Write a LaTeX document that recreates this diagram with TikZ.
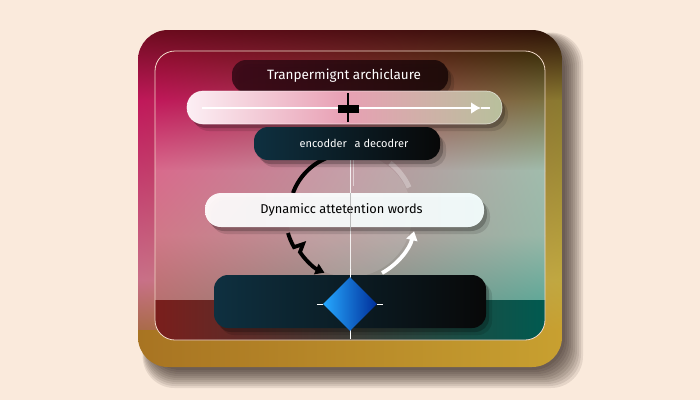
\documentclass[tikz,border=0pt]{standalone}
\usepackage{fontspec}
\setmainfont{Fira Sans}
\usetikzlibrary{arrows.meta,shapes.geometric,shadows,shadings}
\definecolor{bgpeach}{HTML}{FAEADC}
\definecolor{framecol}{HTML}{F2D8C8}
\definecolor{oa}{HTML}{6E0A1E}\definecolor{ob}{HTML}{2A1206}
\definecolor{oc}{HTML}{C0185A}\definecolor{od}{HTML}{8A7A30}
\definecolor{oe}{HTML}{C87088}\definecolor{of}{HTML}{C0A840}
\definecolor{og}{HTML}{A86A48}\definecolor{oh}{HTML}{C8A030}
\definecolor{oi}{HTML}{A87422}
\definecolor{ia}{HTML}{8C0C2C}\definecolor{ib}{HTML}{3A2C08}
\definecolor{ic}{HTML}{C0185A}\definecolor{id}{HTML}{7A7040}
\definecolor{ie}{HTML}{D86A8C}\definecolor{if}{HTML}{A0BCAC}
\definecolor{ig}{HTML}{D07888}\definecolor{ih}{HTML}{98B8A8}
\definecolor{ii}{HTML}{B87070}\definecolor{ij}{HTML}{60A898}
\definecolor{ik}{HTML}{7A1E1C}\definecolor{il}{HTML}{005A50}
\definecolor{tbl}{HTML}{3A0A18}\definecolor{tbr}{HTML}{1C0A08}
\definecolor{dbl}{HTML}{0E3040}\definecolor{dbr}{HTML}{080808}
\definecolor{barl}{HTML}{FCEFF4}\definecolor{barm}{HTML}{E8A0B4}\definecolor{barr}{HTML}{B8C09C}
\definecolor{shadowcol}{HTML}{1A0C04}
\tikzset{
  softshadow/.style={general shadow={shadow xshift=3pt,shadow yshift=-4pt,fill=black,opacity=0.22},
                     general shadow={shadow xshift=6pt,shadow yshift=-7pt,fill=black,opacity=0.12}},
  darkbox/.style={rounded corners=14pt, inner sep=0pt, text=white, font=\fontsize{11}{13}\selectfont},
  lightbar/.style={rounded corners=16pt, inner sep=0pt, draw=white, draw opacity=0.6, line width=0.7pt},
  thinline/.style={draw=white, line width=0.8pt},
  fatarrow/.style={line width=3.8pt},
}
\begin{document}
\begin{tikzpicture}[x=1pt,y=-1pt]
\useasboundingbox (0,0) rectangle (700,400);
\fill[bgpeach] (0,0) rectangle (700,400);
% panel shadow
\foreach \s in {0,2,...,18} {
  \fill[shadowcol,opacity=0.09,rounded corners=32] ({148-\s*0.3},{38-\s*0.3}) rectangle ({565+\s},{370+\s});
}
% outer panel
\begin{scope}
\clip[rounded corners=30] (138,30) rectangle (562,367);
\shade[upper left=oa, upper right=ob, lower left=oc, lower right=od] (138,29) rectangle (562,101);
\shade[upper left=oc, upper right=od, lower left=oe, lower right=of] (138,100) rectangle (562,281);
\shade[upper left=oe, upper right=of, lower left=og, lower right=oh] (138,280) rectangle (562,331);
\shade[upper left=oi, upper right=oh, lower left=oi, lower right=oh] (138,330) rectangle (562,368);
\end{scope}
% inner area
\begin{scope}
\clip[rounded corners=20] (155,51) rectangle (545,340);
\shade[upper left=ia, upper right=ib, lower left=ic, lower right=id] (155,50) rectangle (545,101);
\shade[upper left=ic, upper right=id, lower left=ie, lower right=if] (155,100) rectangle (545,171);
\shade[upper left=ie, upper right=if, lower left=ig, lower right=ih] (155,170) rectangle (545,236);
\shade[upper left=ig, upper right=ih, lower left=ii, lower right=ij] (155,235) rectangle (545,301);
\shade[upper left=ik, upper right=il, lower left=ik, lower right=il] (155,300) rectangle (545,341);
\fill[white,opacity=0.12] (350,215) circle[radius=62];
\end{scope}
\draw[framecol,line width=0.8pt,rounded corners=20] (155,51) rectangle (545,340);
% circle arcs behind boxes
\coordinate (arcA) at (293,193);
\coordinate (arcR) at (390,163);
\draw[black,line width=4pt] (arcA) arc[start angle=200,end angle=247,radius=60];
\draw[white,opacity=0.3,line width=5pt] (arcR) arc[start angle=308,end angle=336,radius=64];
% vertical thin line
\coordinate (vtop) at (350,160);
\coordinate (vbot) at (350,333);
\coordinate (vtop2) at (353,160);
\coordinate (vbot2) at (353,186);
\draw[thinline,opacity=0.85] (vtop) -- (vbot);
\draw[thinline,opacity=0.5] (vtop2) -- (vbot2);
% boxes
\node[darkbox, softshadow, left color=tbl, right color=tbr, fill opacity=0.92, text opacity=1,
      minimum width=216pt, minimum height=32pt, font=\fontsize{13.5}{15}\selectfont] (title) at (340,76) {\hspace*{8pt}Tranpermignt archiclaure};
\node[lightbar, softshadow, left color=barl, right color=barr, middle color=barm,
      minimum width=315pt, minimum height=33pt] (bar) at (344.5,107.5) {};
\node[darkbox, softshadow, left color=dbl, right color=dbr, minimum width=186pt, minimum height=33pt] (enc) at (347,143.5)
  {\hspace*{14pt}encodder\hspace{0.7em}a decodrer};
% bar arrow and cross
\coordinate (arrS) at (202,108);
\coordinate (arrH) at (481,108);
\coordinate (arrE) at (490,108);
\draw[white,line width=2.2pt] (arrH) -- (arrE);
\draw[white,line width=2.2pt,-{Latex[length=10pt,width=12pt]}] (arrS) -- (arrH);
\coordinate (crT) at (348,93);
\coordinate (crB) at (348,122);
\draw[black,line width=1.5pt] (crT) -- (crB);
\node[fill=black,minimum width=21pt,minimum height=8pt,inner sep=0pt] (cross) at (348.5,108.5) {};
% dynamic box
\node[rounded corners=16pt, softshadow, left color=white!95!pink, right color=cyan!4!white, fill opacity=0.95, text opacity=1,
      minimum width=279pt, minimum height=34pt, inner sep=0pt, font=\fontsize{12.8}{15}\selectfont] (dyn) at (344.5,210)
  {\hspace*{-6pt}Dynamicc attetention words};
\draw[thinline,draw=gray,opacity=0.5] (350,193) -- (350,227);
% lower arrows
\coordinate (bS) at (288,233);
\coordinate (wS) at (382,273);
\draw[black,fatarrow,-{Triangle[length=9pt,width=11pt]}] (bS) arc[start angle=164,end angle=150,radius=63]
   -- ++(9,-3) -- ++(-3,8) arc[start angle=146,end angle=114,radius=58];
\draw[white,fatarrow,-{Triangle[length=9pt,width=11pt]}] (wS) arc[start angle=61,end angle=14,radius=66];
% bottom box
\node[darkbox, softshadow, left color=dbl, right color=dbr, minimum width=272pt, minimum height=53pt] (bot) at (350,301.5) {};
\draw[thinline,opacity=0.85] (350,275) -- (vbot);
\node[diamond, shape aspect=1, minimum width=54pt, minimum height=54pt, inner sep=0pt,
      left color=cyan!60!blue!85!white, right color=blue!70!cyan!60!black] (dia) at (350,304) {};
\draw[thinline] ([xshift=-6pt]dia.west) -- (dia.west);
\draw[thinline] (dia.east) -- ([xshift=6pt]dia.east);
\draw[thinline] ([yshift=-8pt]dia.south) -- (vbot);
\draw[thinline] (dia.north) -- ([yshift=8pt]dia.north);
\end{tikzpicture}
\end{document}
